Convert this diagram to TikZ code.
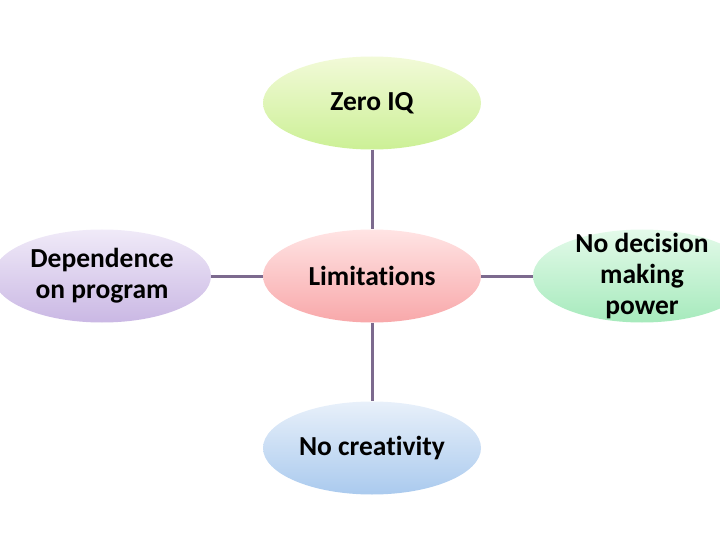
\documentclass[tikz,border=0pt]{standalone}
\usepackage{fontspec}
\setmainfont[Ligatures=NoCommon]{Carlito}
\usetikzlibrary{shapes.geometric}
\definecolor{linkc}{HTML}{7C6A8E}
\definecolor{zt}{HTML}{F2FAD8}\definecolor{zb}{RGB}{204,240,150}
\definecolor{lt}{RGB}{255,228,228}\definecolor{lb}{RGB}{248,168,170}
\definecolor{ct}{RGB}{232,240,250}\definecolor{cb}{RGB}{170,202,238}
\definecolor{dt}{RGB}{240,234,248}\definecolor{db}{RGB}{202,184,228}
\definecolor{nt}{RGB}{228,250,234}\definecolor{nb}{RGB}{166,234,188}
\tikzset{
  bubble/.style={ellipse, minimum width=218pt, minimum height=93pt, inner sep=0pt},
  label text/.style={align=center, font=\fontsize{27.5}{31}\selectfont\bfseries, text=black, inner sep=0pt},
  link/.style={draw=linkc, line width=3pt}
}
\begin{document}
\begin{tikzpicture}[x=1pt,y=-1pt]
\useasboundingbox (0,0) rectangle (720,540);
\node[bubble, top color=zt, bottom color=zb] (zero) at (372,103) {};
\node[bubble, top color=lt, bottom color=lb] (lim) at (372,276) {};
\node[bubble, top color=ct, bottom color=cb] (cre) at (372,448) {};
\node[bubble, top color=dt, bottom color=db] (dep) at (102,276) {};
\node[bubble, top color=nt, bottom color=nb] (dec) at (642,276) {};
\node[label text] (zerot) at (zero.center) {Zero IQ};
\node[label text] (limt) at (lim.center) {Limitations};
\node[label text] (cret) at (cre.center) {No creativity};
\node[label text] (dept) at (dep.center) {Dependence\\on program};
\node[label text] (dect) at (dec.center) {No decision\\making\\power};
\draw[link] (zero) -- (lim);
\draw[link] (lim) -- (cre);
\draw[link] (lim) -- (dep);
\draw[link] (lim) -- (dec);
\end{tikzpicture}
\end{document}
